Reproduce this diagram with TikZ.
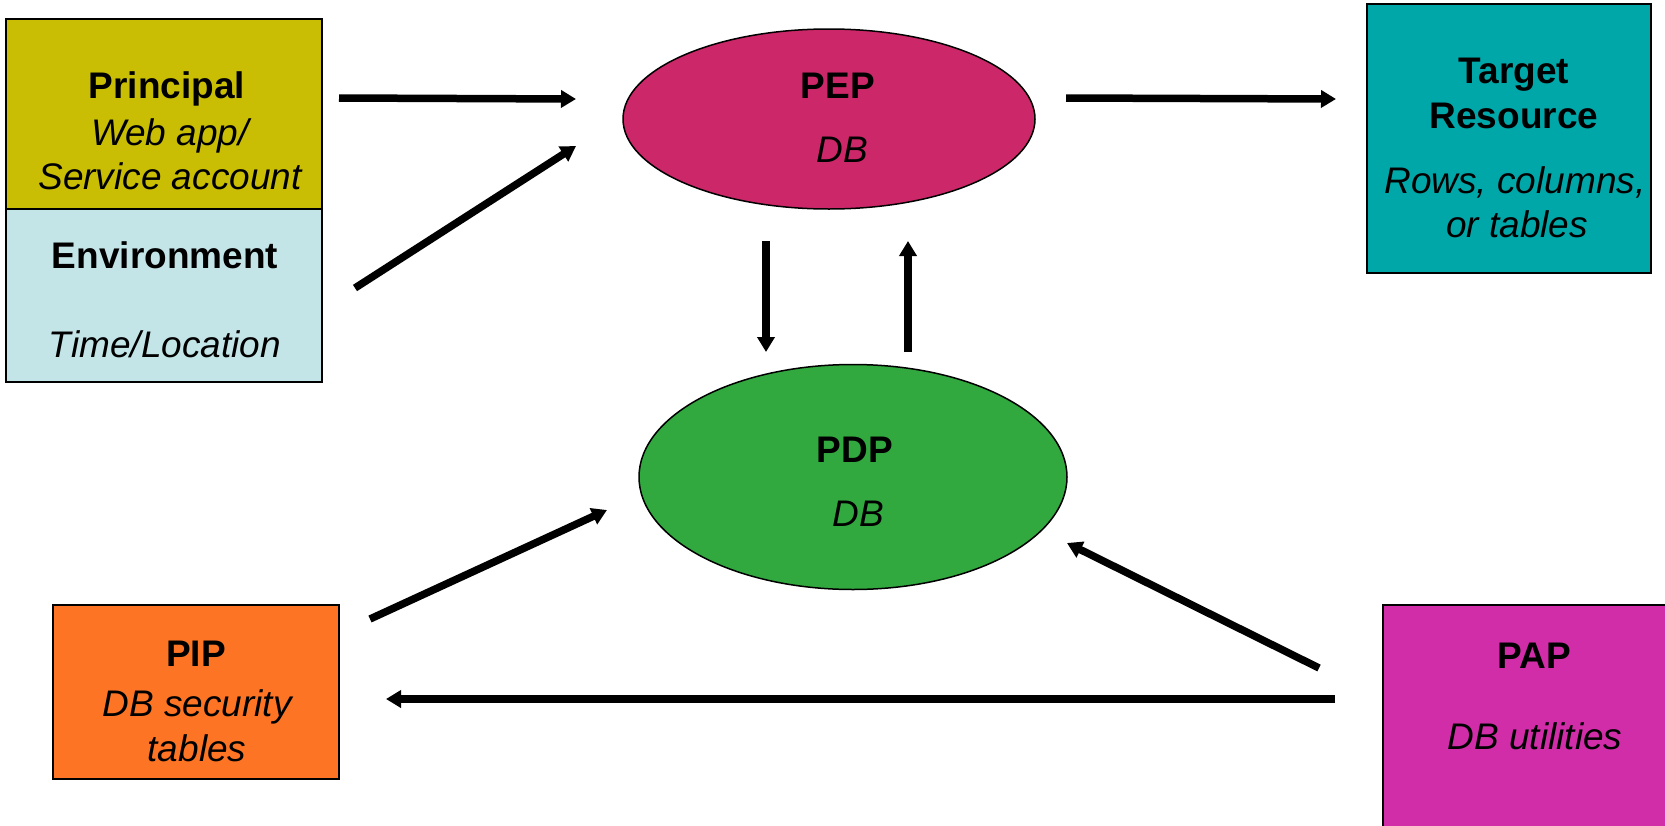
\documentclass[tikz,border=0pt]{standalone}
\usepackage{fontspec}
\setmainfont{Liberation Sans}
\usetikzlibrary{arrows.meta,shapes.geometric}

\definecolor{principalfill}{HTML}{C9BE03}
\definecolor{envfill}{HTML}{C4E5E8}
\definecolor{pepfill}{HTML}{CC2869}
\definecolor{targetfill}{HTML}{00A7A9}
\definecolor{pdpfill}{HTML}{31A93F}
\definecolor{pipfill}{HTML}{FD7424}
\definecolor{papfill}{HTML}{D12DA8}

\begin{document}
\begin{tikzpicture}[x=1pt,y=-1pt,
  box/.style={draw=black, line width=1.8pt, inner sep=0pt, outer sep=0pt,
              anchor=north west, rectangle},
  oval/.style={draw=black, line width=1.5pt, ellipse, inner sep=0pt, outer sep=0pt},
  ttl/.style={anchor=base, inner sep=0pt, font=\fontsize{37}{44}\selectfont\bfseries},
  sub/.style={anchor=base, inner sep=0pt, font=\fontsize{37}{44}\selectfont\itshape},
  arr/.style={line width=7.5pt, -{Triangle[length=15pt,width=17pt]}}
]
\useasboundingbox (0,0) rectangle (1665,825);
\fill[white] (0,0) rectangle (1665,825);

% boxes and ovals
\node[box, fill=principalfill, minimum width=316pt, minimum height=190pt] (principal) at (6,19) {};
\node[box, fill=envfill, minimum width=316pt, minimum height=173pt] (env) at (6,209) {};
\node[box, fill=targetfill, minimum width=284pt, minimum height=269pt] (target) at (1367,4) {};
\node[box, fill=pipfill, minimum width=286pt, minimum height=174pt] (pip) at (53,605) {};
\node[box, fill=papfill, minimum width=300pt, minimum height=240pt] (pap) at (1383,605) {};
\node[oval, fill=pepfill, minimum width=412pt, minimum height=180pt] (pep) at (829,119) {};
\node[oval, fill=pdpfill, minimum width=428pt, minimum height=225pt] (pdp) at (853,477) {};

% labels
\node[ttl] (principal-t) at (167,98) {Principal};
\node[sub] (principal-s1) at (170,145) {Web app/};
\node[sub] (principal-s2) at (170,189) {Service account};
\node[ttl] (env-t) at (165,268) {Environment};
\node[sub] (env-s) at (165,357) {Time/Location};
\node[ttl] (pep-t) at (838,98) {PEP};
\node[sub] (pep-s) at (842,162) {DB};
\node[ttl] (target-t1) at (1514,83) {Target};
\node[ttl] (target-t2) at (1514,128) {Resource};
\node[sub] (target-s1) at (1515,193) {Rows, columns,};
\node[sub] (target-s2) at (1517,237) {or tables};
\node[ttl] (pdp-t) at (855,462) {PDP};
\node[sub] (pdp-s) at (858,526) {DB};
\node[ttl] (pip-t) at (196,666) {PIP};
\node[sub] (pip-s1) at (197,716) {DB security};
\node[sub] (pip-s2) at (197,761) {tables};
\node[ttl] (pap-t) at (1534,668) {PAP};
\node[sub] (pap-s) at (1535,749) {DB utilities};

% connector end points
\coordinate (c1a) at (339,98);   \coordinate (c1b) at (576,99);
\coordinate (c2a) at (355,288);  \coordinate (c2b) at (576,146);
\coordinate (c3a) at (1066,98);  \coordinate (c3b) at (1336,99);
\coordinate (c4a) at (766,241);  \coordinate (c4b) at (766,352);
\coordinate (c5a) at (908,352);  \coordinate (c5b) at (908,241);
\coordinate (c6a) at (370,619);  \coordinate (c6b) at (607,510);
\coordinate (c7a) at (1319,668); \coordinate (c7b) at (1067,543);
\coordinate (c8a) at (1335,699); \coordinate (c8b) at (386,699);

% connectors
\draw[arr] (c1a) -- (c1b);
\draw[arr] (c2a) -- (c2b);
\draw[arr] (c3a) -- (c3b);
\draw[arr] (c4a) -- (c4b);
\draw[arr] (c5a) -- (c5b);
\draw[arr] (c6a) -- (c6b);
\draw[arr] (c7a) -- (c7b);
\draw[arr] (c8a) -- (c8b);
\end{tikzpicture}
\end{document}
